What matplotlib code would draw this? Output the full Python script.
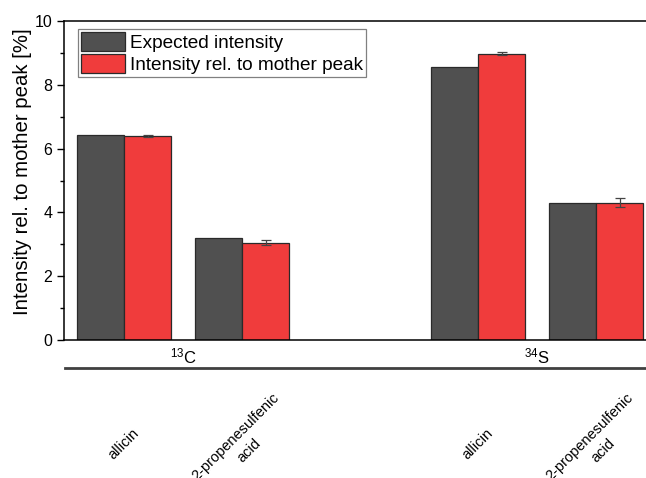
import numpy as np
import matplotlib
matplotlib.use('Agg')
import matplotlib.pyplot as plt

plt.rcParams['font.family'] = ['Liberation Sans', 'DejaVu Sans']
plt.rcParams['mathtext.default'] = 'regular'

# data
labels = ['allicin', '2-propenesulfenic\nacid', 'allicin', '2-propenesulfenic\nacid']
groups = ['$^{13}$C', '$^{34}$S']
expected = [6.43, 3.21, 8.57, 4.28]
measured = [6.39, 3.05, 8.98, 4.31]
measured_err = [0.04, 0.08, 0.06, 0.14]
positions = [0, 1, 3, 4]

grey = '#505050'
red = '#F03C3C'

fig = plt.figure(figsize=(6.46, 4.78), dpi=100)
ax = fig.add_axes([64/646, 138/478, 636/646, 319/478])

x = np.array(positions, dtype=float)
w = 0.4
ax.bar(x - w/2, expected, w, color=grey, edgecolor='#2a2a2a', linewidth=0.9,
       label='Expected intensity')
ax.bar(x + w/2, measured, w, color=red, edgecolor='#2a2a2a', linewidth=0.9,
       label='Intensity rel. to mother peak')
ax.errorbar(x + w/2, measured, yerr=measured_err, fmt='none', ecolor='#444444',
            elinewidth=0.9, capsize=3.5, capthick=0.9)

ax.set_xlim(-0.508, 4.881)
ax.set_ylim(0, 10)
ax.set_yticks([0, 2, 4, 6, 8, 10])
ax.set_yticks([1, 3, 5, 7, 9], minor=True)
ax.tick_params(axis='y', which='major', direction='out', length=5, width=1, labelsize=11.5)
ax.tick_params(axis='y', which='minor', direction='out', length=3, width=1)
ax.set_xticks([])
ax.spines['right'].set_visible(False)
for s in ['left', 'bottom', 'top']:
    ax.spines[s].set_linewidth(1.1)
ax.set_ylabel('Intensity rel. to mother peak [%]', fontsize=14.7, va='center')
ax.yaxis.set_label_coords(-0.066, 0.527)

# category labels below the axis
for p, lab in zip(positions, labels):
    ax.text(p, -0.325, lab, transform=ax.get_xaxis_transform(), rotation=45,
            ha='center', va='center', multialignment='center', fontsize=10.5,
            linespacing=1.45)

# group labels
for i, g in enumerate(groups):
    gx = (positions[2*i] + positions[2*i + 1]) / 2
    ax.text(gx, -0.053, g, transform=ax.get_xaxis_transform(), ha='center',
            va='center', fontsize=12)

# separator line under group labels
ax.plot([-0.508 + 1/118, 4.881], [-0.088, -0.088], transform=ax.get_xaxis_transform(),
        color='#404040', lw=2, clip_on=False)

leg = ax.legend(loc='upper left', bbox_to_anchor=(78/646, 1 - 29/478),
                bbox_transform=fig.transFigure, borderaxespad=0, fontsize=13.7,
                fancybox=False, edgecolor='#808080', framealpha=1,
                handlelength=2.3, handleheight=1.2, handletextpad=0.3,
                labelspacing=0.08, borderpad=0.15)
leg.get_frame().set_linewidth(0.9)

fig.savefig('out.png', dpi=100)
